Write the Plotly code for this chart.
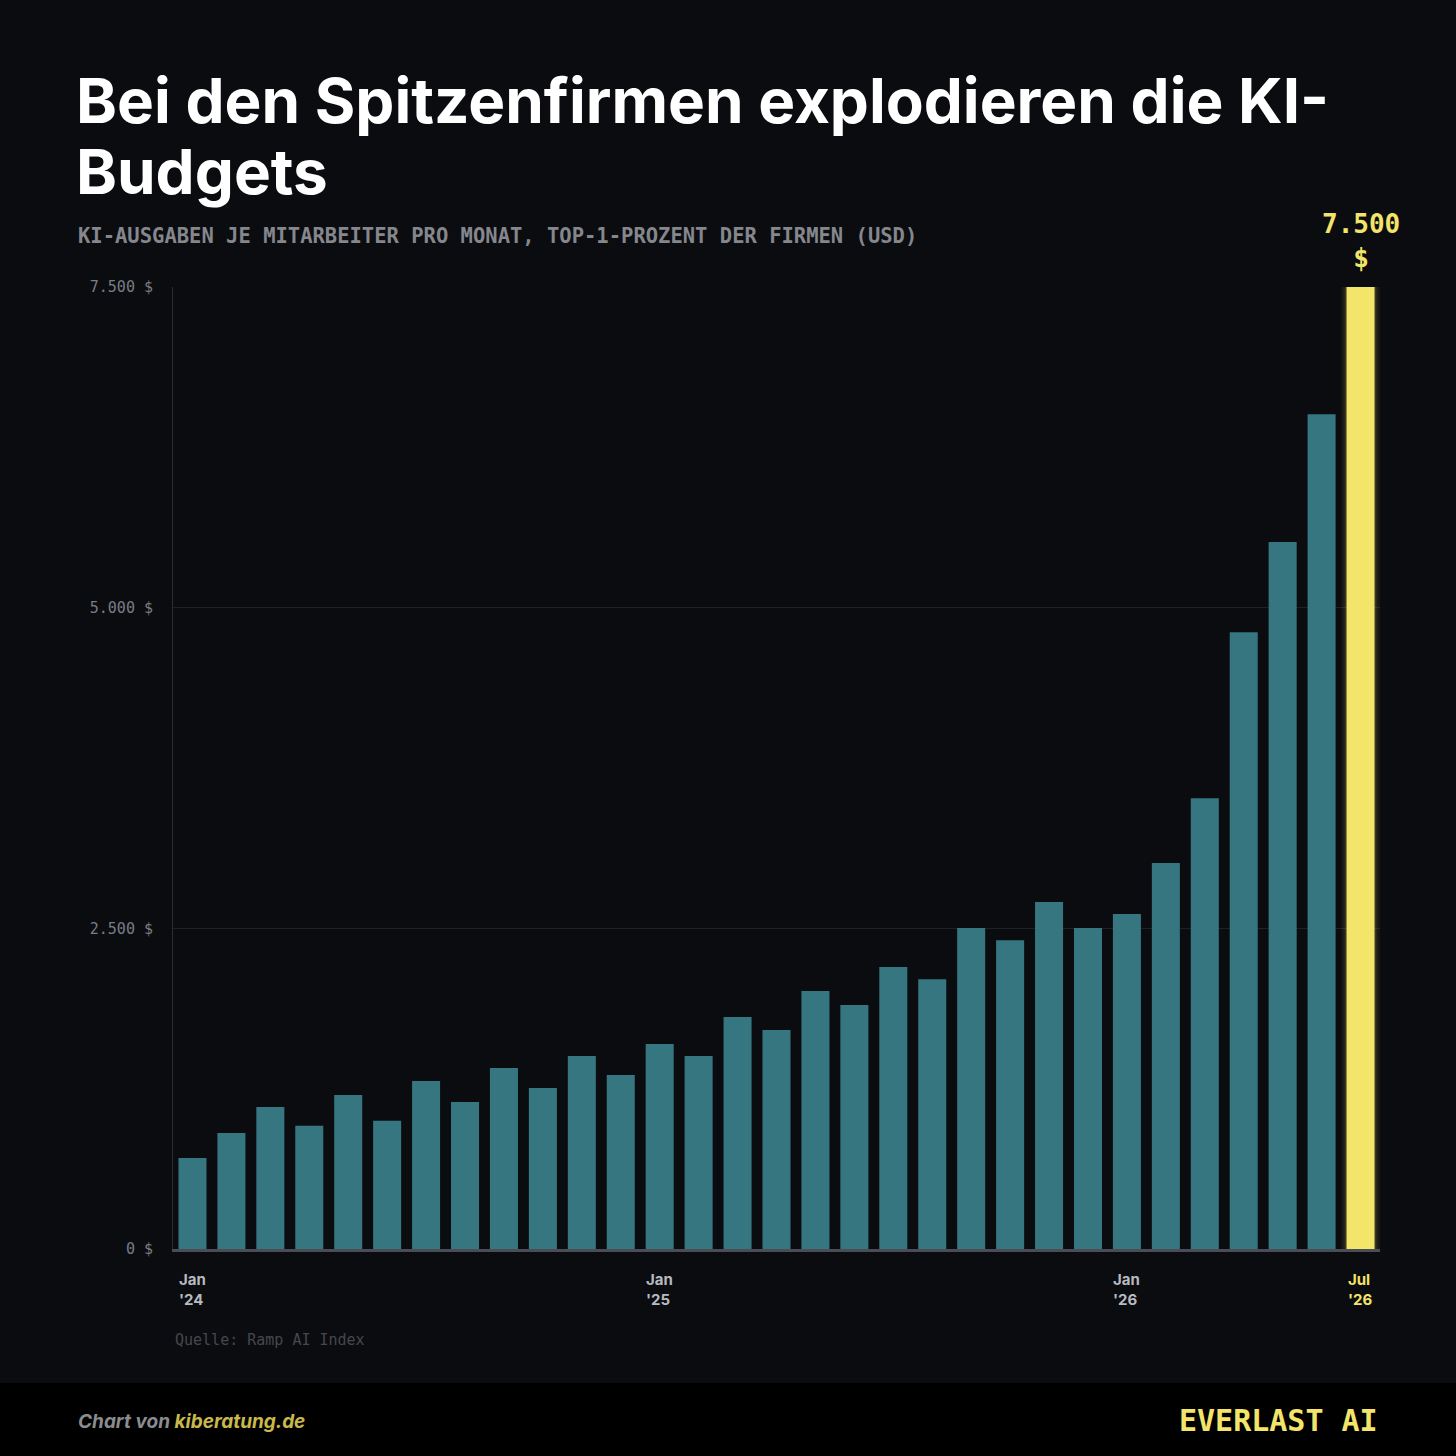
import plotly.graph_objects as go

months = ["Jan 24","Feb 24","Mar 24","Apr 24","May 24","Jun 24","Jul 24","Aug 24","Sep 24","Oct 24","Nov 24","Dec 24",
          "Jan 25","Feb 25","Mar 25","Apr 25","May 25","Jun 25","Jul 25","Aug 25","Sep 25","Oct 25","Nov 25","Dec 25",
          "Jan 26","Feb 26","Mar 26","Apr 26","May 26","Jun 26","Jul 26"]
values = [710, 905, 1107, 960, 1200, 1000, 1310, 1146, 1411, 1255, 1505, 1356,
          1598, 1505, 1808, 1707, 2011, 1902, 2198, 2104, 2502, 2408, 2705, 2502,
          2611, 3009, 3515, 4809, 5511, 6508, 7500]
tick_idx = [0, 12, 24, 30]
tick_text = ["Jan<br>'24", "Jan<br>'25", "Jan<br>'26", "Jul<br>'26"]
y_ticks = [0, 2500, 5000, 7500]
y_tick_text = ["0 $", "2.500 $", "5.000 $", "7.500 $"]
title_lines = ["Bei den Spitzenfirmen explodieren die KI-", "Budgets"]

BG = "#0b0c10"
TEAL = "#357680"
YEL = "#f3e46a"
L, R, T, B = 173, 1380, 287, 1249
def px(p): return (p - L) / (R - L)
def py(p): return (B - p) / (B - T)

n = len(values)
colors = [TEAL] * (n - 1) + [YEL]
x = list(range(n))

fig = go.Figure()
for w, op in [(1.0, 0.05), (0.88, 0.07), (0.8, 0.1)]:
    fig.add_trace(go.Bar(x=[x[-1]], y=[values[-1] * 1.01], width=w, marker_color=YEL,
                         opacity=op, marker_line_width=0, hoverinfo="skip", showlegend=False))
fig.add_trace(go.Bar(x=x, y=values, marker_color=colors, marker_line_width=0,
                     width=0.72, showlegend=False))

fig.update_layout(
    width=1456, height=1456, barmode="overlay",
    paper_bgcolor=BG, plot_bgcolor=BG,
    margin=dict(l=L, r=1456 - R, t=T, b=1456 - B),
    xaxis=dict(range=[-0.5, n - 0.5], showticklabels=False, showgrid=False, zeroline=False,
               showline=True, linecolor="#4a4d55", linewidth=3),
    yaxis=dict(range=[0, 7500], tickvals=y_ticks, ticktext=y_tick_text, showgrid=True,
               gridcolor="#1f2127", gridwidth=1, zeroline=False, showline=True,
               linecolor="#2a2c32", linewidth=1, ticks="", ticklabelstandoff=16,
               tickfont=dict(family="DejaVu Sans Mono", size=15, color="#7a7c82")),
    font=dict(family="Inter"),
)

ann = []
for i, t in zip(tick_idx, tick_text):
    ann.append(dict(x=i, y=py(1268), xref="x", yref="paper", text="<b>%s</b>" % t, showarrow=False,
                    xanchor="center", yanchor="top", align="left",
                    font=dict(family="Inter", size=15, color=YEL if i == n - 1 else "#b8bac0")))
ann.append(dict(x=x[-1], y=values[-1], xref="x", yref="y", yshift=12, text="<b>7.500<br>$</b>",
                showarrow=False, yanchor="bottom", xanchor="center",
                font=dict(family="DejaVu Sans Mono", size=26, color=YEL)))
for k, line in enumerate(title_lines):
    ann.append(dict(x=px(74), y=py(100 + 71 * k), xref="paper", yref="paper", xanchor="left", yanchor="middle",
                    text="<b>%s</b>" % line, showarrow=False,
                    font=dict(family="Inter", size=62, color="white", weight=800)))
ann.append(dict(x=px(76), y=py(236), xref="paper", yref="paper", xanchor="left", yanchor="middle",
                text="<b>KI-AUSGABEN JE MITARBEITER PRO MONAT, TOP-1-PROZENT DER FIRMEN (USD)</b>", showarrow=False,
                font=dict(family="DejaVu Sans Mono", size=20.5, color="#85878d")))
ann.append(dict(x=px(173), y=py(1340), xref="paper", yref="paper", xanchor="left", yanchor="middle",
                text="Quelle: Ramp AI Index", showarrow=False,
                font=dict(family="DejaVu Sans Mono", size=15, color="#45474d")))
ann.append(dict(x=px(76), y=py(1421), xref="paper", yref="paper", xanchor="left", yanchor="middle",
                text="<i><b><span style='color:#8a8c90'>Chart von </span><span style='color:#c9b84a'>kiberatung.de</span></b></i>",
                showarrow=False, font=dict(family="Inter", size=19)))
ann.append(dict(x=px(1380), y=py(1420), xref="paper", yref="paper", xanchor="right", yanchor="middle",
                text="<b>EVERLAST AI</b>", showarrow=False,
                font=dict(family="DejaVu Sans Mono", size=30, color=YEL)))
fig.update_layout(annotations=ann)

fig.add_shape(type="rect", xref="paper", yref="paper", x0=px(0), x1=px(1456), y0=py(1383), y1=py(1460),
              fillcolor="#000000", line_width=0, layer="below")
fig.write_html("out.html", config={"displayModeBar": False},
               post_script="document.body.style.margin='0';document.body.style.background='#0b0c10';")
